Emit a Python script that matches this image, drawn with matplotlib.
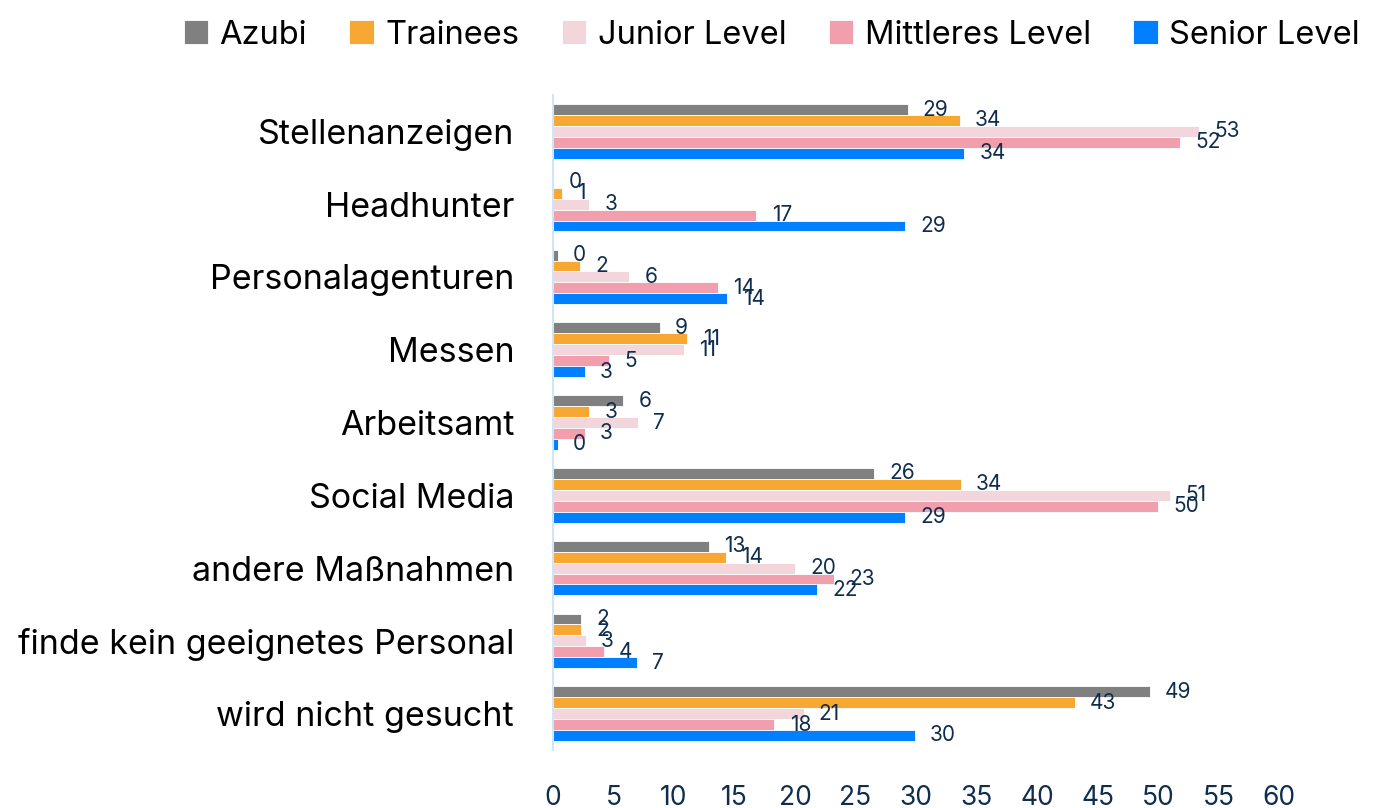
import matplotlib
matplotlib.use("Agg")
import matplotlib.pyplot as plt
import numpy as np

# Kategorien (von oben nach unten)
categories = ["Stellenanzeigen", "Headhunter", "Personalagenturen", "Messen",
              "Arbeitsamt", "Social Media", "andere Maßnahmen",
              "finde kein geeignetes Personal", "wird nicht gesucht"]

series_names = ["Azubi", "Trainees", "Junior Level", "Mittleres Level", "Senior Level"]

azubi = [29.3, 0.0, 0.4, 8.8, 5.8, 26.5, 12.9, 2.3, 49.3]
trainees = [33.6, 0.7, 2.2, 11.1, 3.0, 33.7, 14.3, 2.3, 43.1]
junior = [53.4, 3.0, 6.3, 10.8, 7.0, 51.0, 20.0, 2.7, 20.7]
mittleres = [51.8, 16.8, 13.6, 4.6, 2.6, 50.0, 23.2, 4.2, 18.3]
senior = [34.0, 29.1, 14.4, 2.6, 0.4, 29.1, 21.8, 6.9, 29.9]

colors = ["#808080", "#F7A833", "#F3D6DC", "#F19EAD", "#0080FF"]

plt.rcParams['font.family'] = ['Inter', 'DejaVu Sans']
label_color = "#0F2D4E"

fig = plt.figure(figsize=(13.73, 8.08), dpi=100)
ax = fig.add_axes([0.4028, 0.0718, 0.5288, 0.8106])

all_series = [azubi, trainees, junior, mittleres, senior]
y = np.arange(len(categories))
bar_h = 0.15
for i, (name, vals) in enumerate(zip(series_names, all_series)):
    pos = y - 2 * bar_h + i * bar_h
    ax.barh(pos, vals, height=bar_h, color=colors[i], label=name,
            edgecolor='white', linewidth=0.6)
    for p, v in zip(pos, vals):
        ax.annotate(f"{v:.0f}", (v, p), xytext=(11, 0), textcoords='offset points',
                    ha='left', va='center', fontsize=15, color=label_color)

ax.set_xlim(0, 60)
ax.set_ylim(len(categories) - 0.5, -0.5)
ax.set_yticks(y)
ax.set_yticklabels(categories, fontsize=24.5, color='black')
ax.set_xticks(np.arange(0, 61, 5))
ax.tick_params(axis='x', labelsize=19, colors=label_color, length=0, pad=25)
ax.tick_params(axis='y', length=0, pad=28)

for s in ['top', 'right', 'bottom']:
    ax.spines[s].set_visible(False)
ax.spines['left'].set_color('#CFE6F7')
ax.spines['left'].set_linewidth(1.5)

fig.legend(loc='upper center', bbox_to_anchor=(0.562, 1.012), ncol=5, frameon=False,
           fontsize=23.5, handlelength=0.75, handleheight=0.75, handletextpad=0.35,
           columnspacing=1.3)

plt.savefig("out.png", dpi=100)
